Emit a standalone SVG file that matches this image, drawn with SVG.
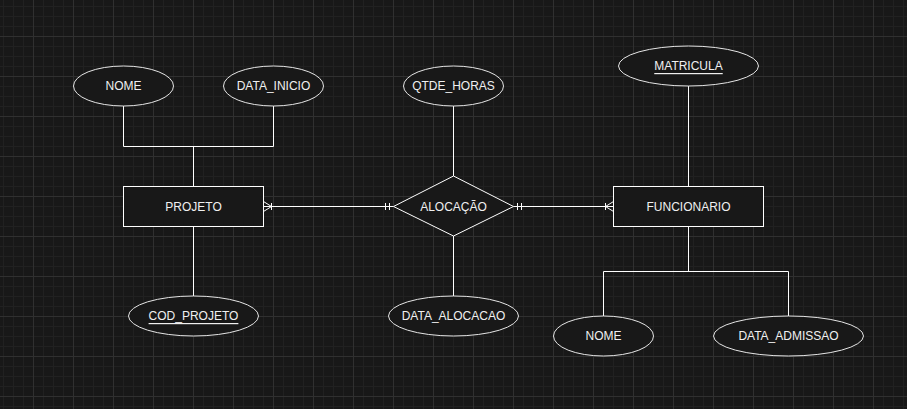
<svg xmlns="http://www.w3.org/2000/svg" width="907" height="409" viewBox="0 0 907 409">
<defs>
<pattern id="grid" x="33" y="36" width="40" height="40" patternUnits="userSpaceOnUse">
<path d="M10.5 0V40M20.5 0V40M30.5 0V40M0 10.5H40M0 20.5H40M0 30.5H40" stroke="#212121" stroke-width="1" fill="none"/>
<path d="M0.5 0V40M0 0.5H40" stroke="#303030" stroke-width="1" fill="none"/>
</pattern>
<marker id="oneMany" markerUnits="userSpaceOnUse" viewBox="-12 0 12 12" refX="0" refY="6" markerWidth="12" markerHeight="12" orient="auto">
<path d="M0 1L-8 6L0 11M0 6H-8M-8 2.5V9.5" fill="none" stroke="#ffffff" stroke-width="1"/>
</marker>
<marker id="mandOne" markerUnits="userSpaceOnUse" viewBox="0 0 12 12" refX="0" refY="6" markerWidth="12" markerHeight="12" orient="auto">
<path d="M4 2.5V9.5M8 2.5V9.5" fill="none" stroke="#ffffff" stroke-width="1"/>
</marker>
</defs>
<style>
.shape{fill:#181818;stroke:#ffffff;stroke-width:1}
.attr{fill:#181818;stroke:#e6e6e6;stroke-width:1}
.lbl{font-family:"Liberation Sans",Arial,sans-serif;font-size:12px;fill:#f0f0f0;text-anchor:middle;dominant-baseline:central}
.pk{text-decoration:underline}
.edge{fill:none;stroke:#ffffff;stroke-width:1}
</style>
<rect width="907" height="409" fill="#181818"/>
<rect width="907" height="409" fill="url(#grid)"/>
<g id="connectors">
<path class="edge" d="M123.5 106V146.5H273.5V106M193.5 146.5V186.5"/>
<path class="edge" d="M193.5 226.5V296"/>
<path class="edge" d="M453.5 106V176"/>
<path class="edge" d="M453.5 236V296"/>
<path class="edge" d="M688.5 86V186.5"/>
<path class="edge" d="M688.5 226.5V271.5M603.5 316V271.5H788.5V316"/>
<path class="edge" d="M393.5 206.5H263.5" marker-start="url(#mandOne)" marker-end="url(#oneMany)"/>
<path class="edge" d="M513.5 206.5H613.5" marker-start="url(#mandOne)" marker-end="url(#oneMany)"/>
</g>
<g id="projeto">
<rect class="shape" x="123.5" y="186.5" width="140" height="40"/>
<text class="lbl" x="193.5" y="206.5">PROJETO</text>
</g>
<g id="projeto-nome">
<ellipse class="attr" cx="123.5" cy="86" rx="50" ry="20"/>
<text class="lbl" x="123.5" y="86">NOME</text>
</g>
<g id="projeto-data-inicio">
<ellipse class="attr" cx="273.5" cy="86" rx="50" ry="20"/>
<text class="lbl" x="273.5" y="86">DATA_INICIO</text>
</g>
<g id="projeto-cod">
<ellipse class="attr" cx="193.5" cy="316" rx="65" ry="20"/>
<text class="lbl pk" x="193.5" y="316">COD_PROJETO</text>
</g>
<g id="alocacao">
<path class="shape" d="M453.5 176L513.5 206.5L453.5 236L393.5 206.5Z"/>
<text class="lbl" x="453.5" y="206.5">ALOCAÇÃO</text>
</g>
<g id="alocacao-qtde-horas">
<ellipse class="attr" cx="453.5" cy="86" rx="50" ry="20"/>
<text class="lbl" x="453.5" y="86">QTDE_HORAS</text>
</g>
<g id="alocacao-data">
<ellipse class="attr" cx="453.5" cy="316" rx="65" ry="20"/>
<text class="lbl" x="453.5" y="316">DATA_ALOCACAO</text>
</g>
<g id="funcionario">
<rect class="shape" x="613.5" y="186.5" width="150" height="40"/>
<text class="lbl" x="688.5" y="206.5">FUNCIONARIO</text>
</g>
<g id="funcionario-matricula">
<ellipse class="attr" cx="688.5" cy="66" rx="70" ry="20"/>
<text class="lbl pk" x="688.5" y="66">MATRICULA</text>
</g>
<g id="funcionario-nome">
<ellipse class="attr" cx="603.5" cy="336" rx="50" ry="20"/>
<text class="lbl" x="603.5" y="336">NOME</text>
</g>
<g id="funcionario-data-admissao">
<ellipse class="attr" cx="788.5" cy="336" rx="75" ry="20"/>
<text class="lbl" x="788.5" y="336">DATA_ADMISSAO</text>
</g>
</svg>
